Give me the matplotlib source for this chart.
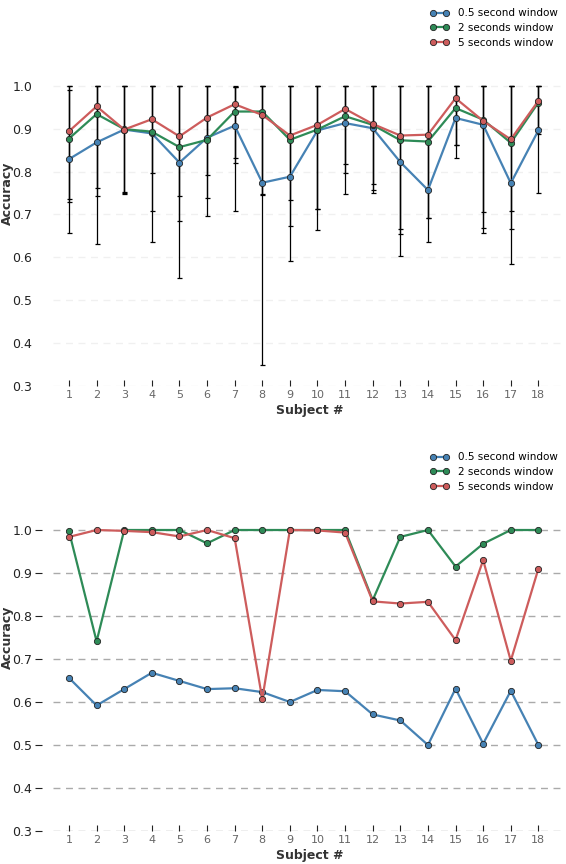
import numpy as np
import matplotlib
matplotlib.use('Agg')
import matplotlib.pyplot as plt

### DATA ###
subjects = np.arange(1, 19)
labels = ['0.5 second window', '2 seconds window', '5 seconds window']
colors = ['steelblue', 'seagreen', 'indianred']

# Top panel: mean accuracy per subject
mean_05 = [0.829, 0.868, 0.898, 0.889, 0.821, 0.879, 0.907, 0.774, 0.788,
           0.896, 0.913, 0.901, 0.822, 0.757, 0.925, 0.909, 0.773, 0.896]
mean_2 = [0.877, 0.934, 0.899, 0.893, 0.857, 0.874, 0.940, 0.940, 0.874,
          0.898, 0.929, 0.909, 0.873, 0.870, 0.948, 0.921, 0.867, 0.961]
mean_5 = [0.894, 0.952, 0.898, 0.922, 0.882, 0.926, 0.957, 0.932, 0.884,
          0.909, 0.946, 0.911, 0.884, 0.886, 0.971, 0.918, 0.875, 0.965]

# Top panel: error bar ends (lower / upper)
lo_05 = [0.657, 0.632, 0.748, 0.636, 0.553, 0.697, 0.709, 0.350, 0.592,
         0.664, 0.748, 0.751, 0.604, 0.636, 0.832, 0.657, 0.585, 0.750]
lo_2 = [0.729, 0.743, 0.750, 0.708, 0.685, 0.738, 0.820, 0.745, 0.673,
        0.713, 0.797, 0.757, 0.655, 0.692, 0.863, 0.669, 0.667, 0.888]
lo_5 = [0.736, 0.761, 0.752, 0.797, 0.743, 0.792, 0.832, 0.748, 0.734,
        0.713, 0.818, 0.771, 0.665, 0.692, 0.863, 0.705, 0.708, 0.900]
hi_05 = [0.990, 1.0, 1.0, 1.0, 1.0, 1.0, 0.997, 1.0, 1.0,
         1.0, 1.0, 1.0, 1.0, 1.0, 1.0, 1.0, 1.0, 1.0]
hi_2 = [1.0, 1.0, 1.0, 1.0, 1.0, 1.0, 0.997, 1.0, 1.0,
        1.0, 1.0, 1.0, 1.0, 1.0, 1.0, 1.0, 1.0, 1.0]
hi_5 = [1.0] * 18

# Bottom panel
acc_05 = [0.656, 0.592, 0.630, 0.668, 0.649, 0.630, 0.632, 0.623, 0.600,
          0.628, 0.625, 0.571, 0.557, 0.500, 0.631, 0.503, 0.626, 0.500]
acc_2 = [0.997, 0.741, 1.000, 1.000, 1.000, 0.969, 1.000, 1.000, 1.000,
         1.000, 1.000, 0.837, 0.984, 1.000, 0.915, 0.968, 1.000, 1.000]
acc_5 = [0.984, 1.000, 0.998, 0.995, 0.985, 1.000, 0.981, 0.607, 1.000,
         0.999, 0.994, 0.834, 0.829, 0.833, 0.744, 0.930, 0.696, 0.910]

yticks = [0.3, 0.4, 0.5, 0.6, 0.7, 0.8, 0.9, 1.0]


def style_axes(ax, grid_color, tick_len, ypad):
    for s in ['top', 'right', 'bottom', 'left']:
        ax.spines[s].set_visible(False)
    ax.spines['left'].set_position(('outward', 8))
    ax.set_xlim(0.42, 19.0)
    ax.set_ylim(0.3, 1.2)
    ax.set_xticks(subjects)
    ax.set_yticks(yticks)
    ax.set_yticklabels(['%.1f' % t for t in yticks])
    ax.tick_params(axis='x', direction='in', length=4, width=0.8,
                   labelsize=8, labelcolor='#666666', color='#222222', pad=3)
    ax.tick_params(axis='y', direction='out', length=tick_len, width=0.8,
                   labelsize=9, labelcolor='#222222', color='#222222', pad=ypad)
    for t in yticks:
        ax.axhline(t, color=grid_color, lw=1, ls=(0, (5, 4)), zorder=0)
    ax.set_xlabel('Subject #', fontsize=9, fontweight='bold', color='#333333', labelpad=3)
    ax.set_ylabel('Accuracy', fontsize=9, fontweight='bold', color='#333333')
    ax.yaxis.set_label_coords(-0.077, 0.5)
    ax.legend(loc='upper right', frameon=False, fontsize=7.5, numpoints=2,
              handlelength=1.9, handletextpad=0.8, labelspacing=0.45,
              borderaxespad=0.4)


fig = plt.figure(figsize=[5.66, 8.64], dpi=100)
ax1 = fig.add_axes([0.0936, 0.5532, 0.9064, 0.4468])
ax2 = fig.add_axes([0.0936, 0.0382, 0.9064, 0.4479])

### Top panel with error bars ###
means = [mean_05, mean_2, mean_5]
lows = [lo_05, lo_2, lo_5]
highs = [hi_05, hi_2, hi_5]
for m, lo, hi in zip(means, lows, highs):
    m = np.array(m)
    yerr = [m - np.array(lo), np.array(hi) - m]
    ax1.errorbar(subjects, m, yerr=yerr, fmt='none', ecolor='black',
                 elinewidth=0.9, capsize=1.8, capthick=0.9, zorder=2)
for m, c, lab in zip(means, colors, labels):
    ax1.plot(subjects, m, '-o', color=c, lw=1.6, ms=4.5, mec='#222222',
             mew=0.6, label=lab, zorder=3)
style_axes(ax1, '#f0f0f0', 0, 7)

### Bottom panel ###
for a, c, lab in zip([acc_05, acc_2, acc_5], colors, labels):
    ax2.plot(subjects, a, '-o', color=c, lw=1.6, ms=4.5, mec='#222222',
             mew=0.6, label=lab, zorder=3)
style_axes(ax2, '#aaaaaa', 5, 2)

fig.savefig('out.png', dpi=100)
plt.close()
